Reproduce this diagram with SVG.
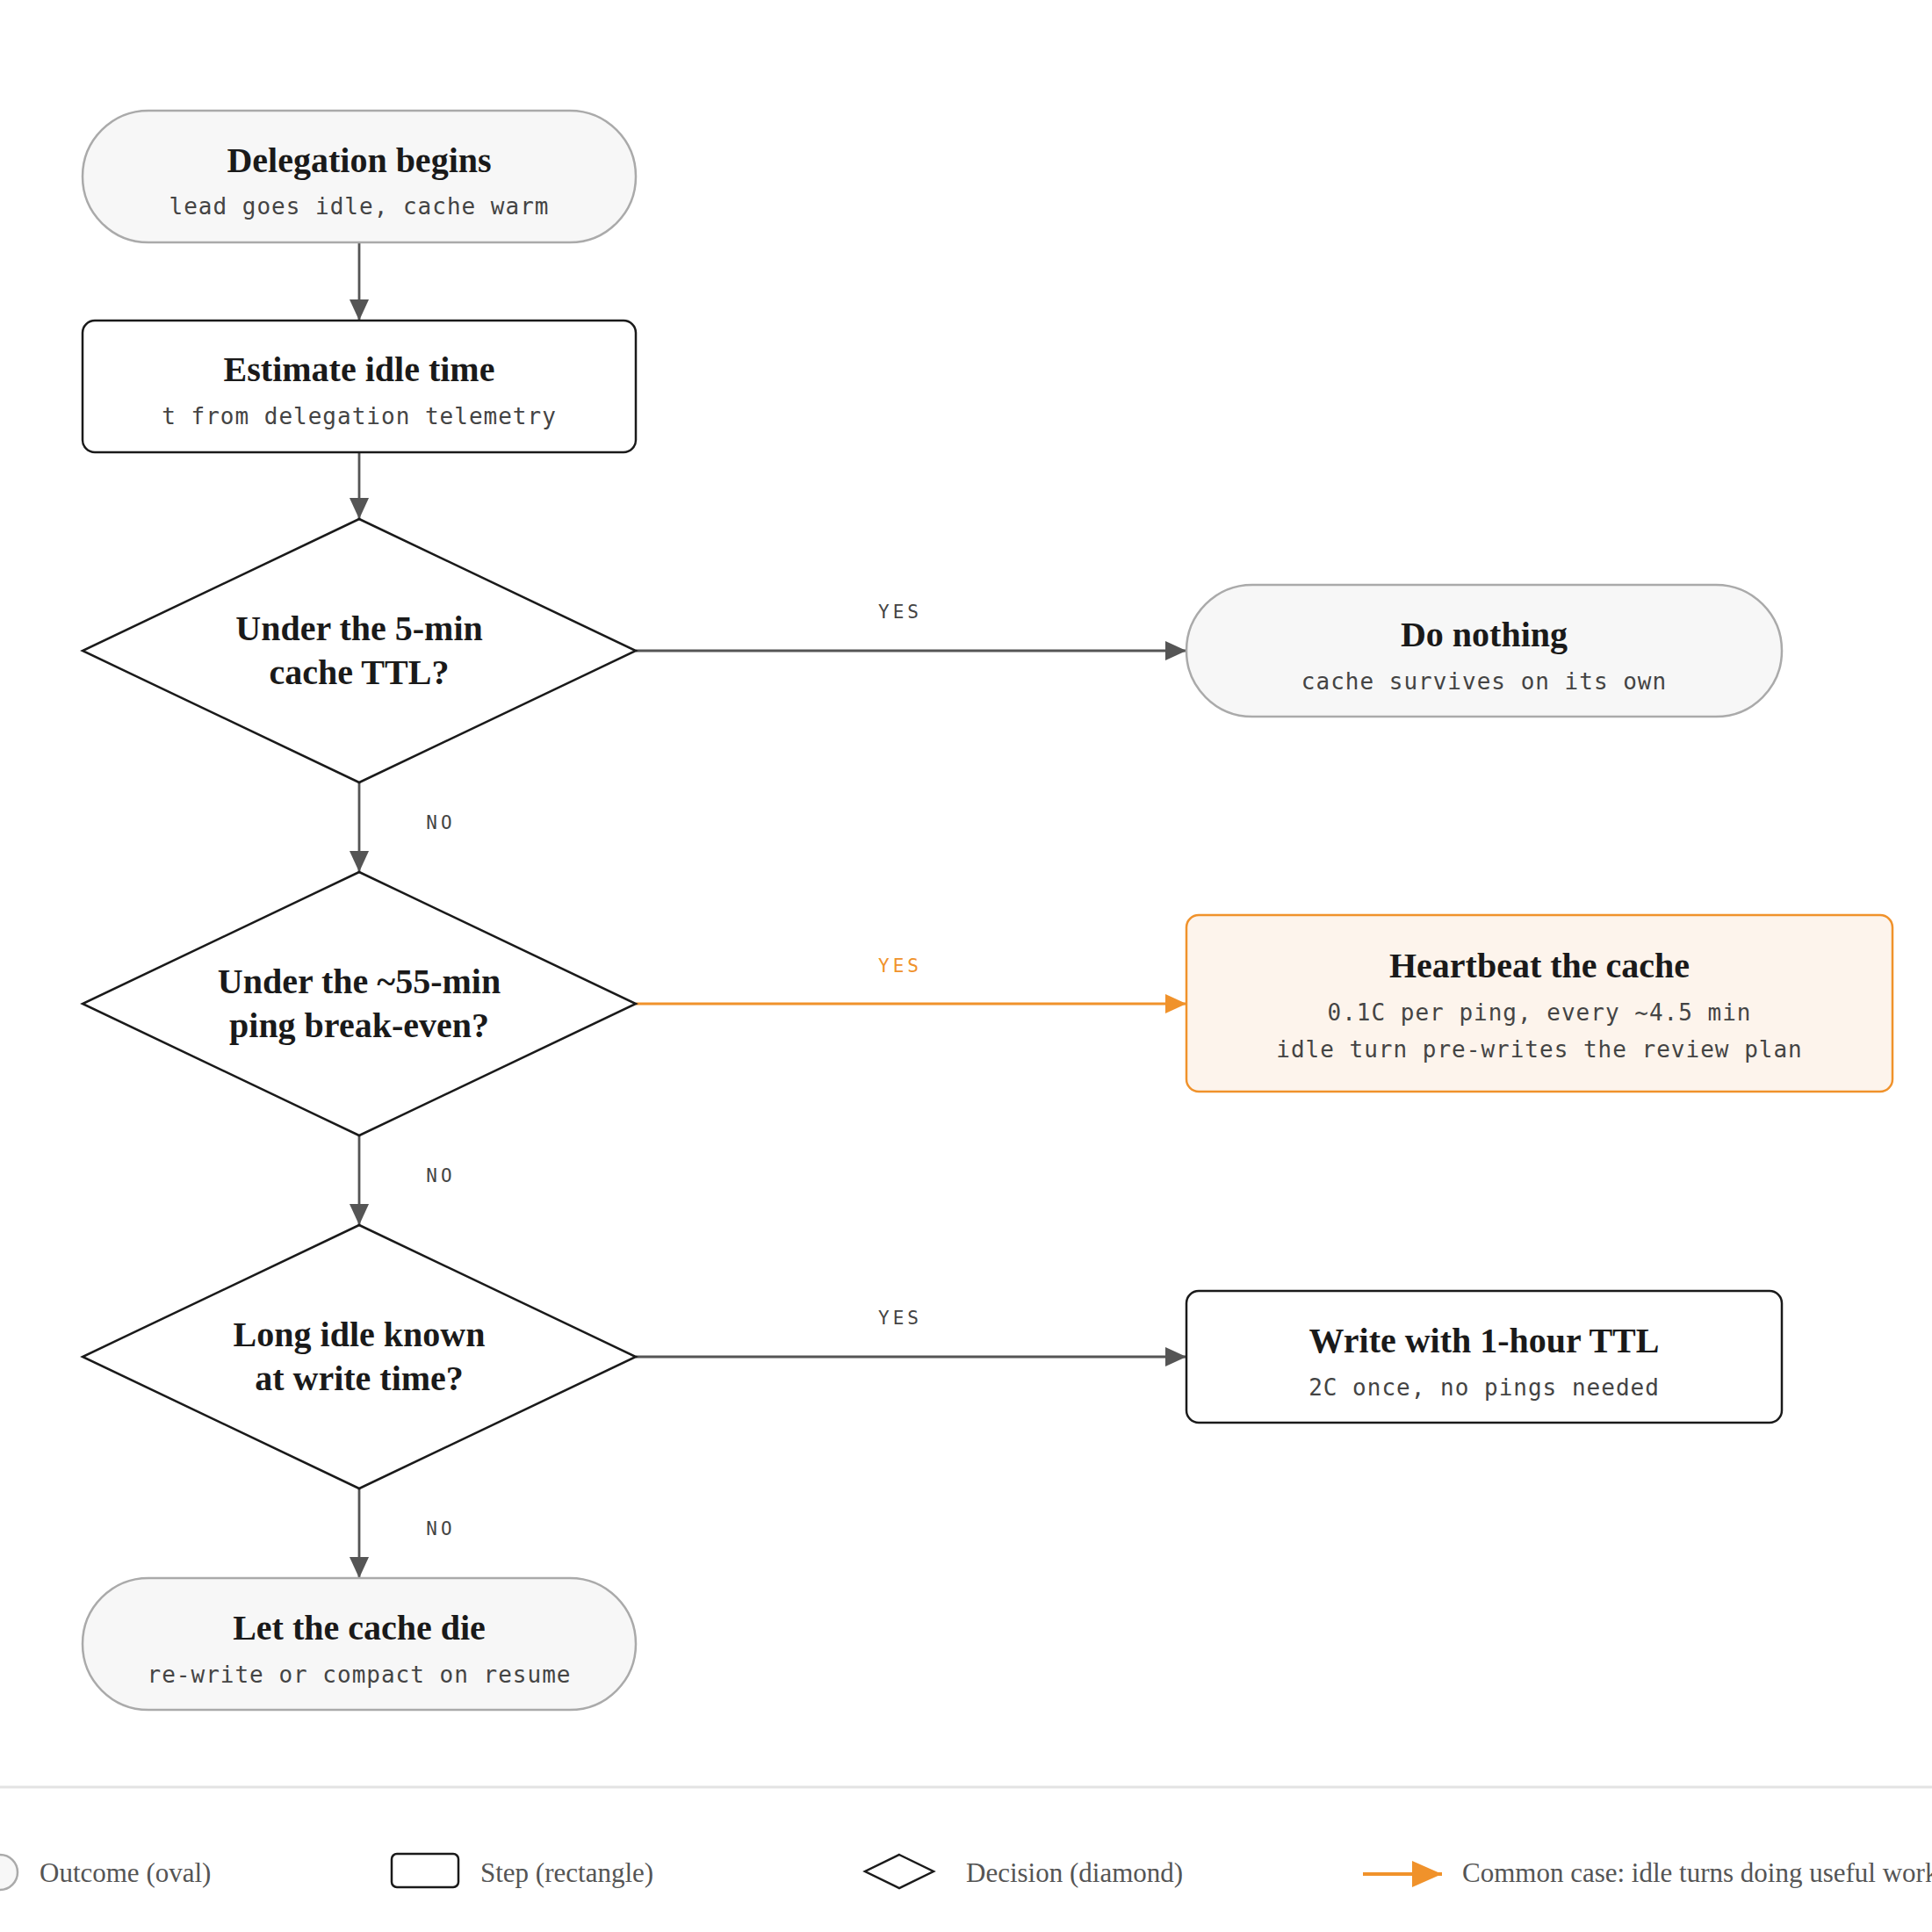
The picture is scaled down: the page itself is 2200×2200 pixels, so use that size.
<svg xmlns="http://www.w3.org/2000/svg" width="2200" height="2200" viewBox="0 0 2200 2200">
<style>
  .title { font-family: "Liberation Serif", "DejaVu Serif", serif; font-weight: bold; font-size: 40px; fill: #1a1a1a; text-anchor: middle; }
  .sub { font-family: "DejaVu Sans Mono", "Liberation Mono", monospace; font-size: 26px; letter-spacing: 1px; fill: #444; text-anchor: middle; }
  .lbl { font-family: "DejaVu Sans Mono", "Liberation Mono", monospace; font-size: 21px; letter-spacing: 4px; fill: #444; text-anchor: middle; }
  .lbl-hot { fill: #f0922b; }
  .oval { fill: #f7f7f7; stroke: #aaaaaa; stroke-width: 2.5; }
  .step { fill: #ffffff; stroke: #1a1a1a; stroke-width: 2.5; }
  .dec { fill: #ffffff; stroke: #1a1a1a; stroke-width: 2.5; }
  .hot { fill: #fdf4ec; stroke: #f0922b; stroke-width: 2.5; }
  .edge { fill: none; stroke: #555555; stroke-width: 2.8; }
  .edge-hot { fill: none; stroke: #f0922b; stroke-width: 3.2; }
  .legend { font-family: "Liberation Serif", "DejaVu Serif", serif; font-size: 31px; fill: #555; }
</style>
<defs>
  <marker id="ah" markerUnits="userSpaceOnUse" markerWidth="24" markerHeight="22" refX="24" refY="11" orient="auto">
    <path d="M0,0 L24,11 L0,22 Z" fill="#555555"/>
  </marker>
  <marker id="ah-hot" markerUnits="userSpaceOnUse" markerWidth="24" markerHeight="22" refX="24" refY="11" orient="auto">
    <path d="M0,0 L24,11 L0,22 Z" fill="#f0922b"/>
  </marker>
  <marker id="ah-hot-lg" markerUnits="userSpaceOnUse" markerWidth="34" markerHeight="30" refX="34" refY="15" orient="auto">
    <path d="M0,0 L34,15 L0,30 Z" fill="#f0922b"/>
  </marker>
</defs>
<rect x="0" y="0" width="2200" height="2200" fill="#ffffff"/>

<g id="connectors">
  <line class="edge" x1="409" y1="276" x2="409" y2="365" marker-end="url(#ah)"/>
  <line class="edge" x1="409" y1="515" x2="409" y2="591" marker-end="url(#ah)"/>
  <line class="edge" x1="724" y1="741" x2="1351" y2="741" marker-end="url(#ah)"/>
  <text class="lbl" x="1025" y="704">YES</text>
  <line class="edge" x1="409" y1="891" x2="409" y2="993" marker-end="url(#ah)"/>
  <text class="lbl" x="502" y="944">NO</text>
  <line class="edge-hot" x1="724" y1="1143" x2="1351" y2="1143" marker-end="url(#ah-hot)"/>
  <text class="lbl lbl-hot" x="1025" y="1107">YES</text>
  <line class="edge" x1="409" y1="1293" x2="409" y2="1395" marker-end="url(#ah)"/>
  <text class="lbl" x="502" y="1346">NO</text>
  <line class="edge" x1="724" y1="1545" x2="1351" y2="1545" marker-end="url(#ah)"/>
  <text class="lbl" x="1025" y="1508">YES</text>
  <line class="edge" x1="409" y1="1695" x2="409" y2="1797" marker-end="url(#ah)"/>
  <text class="lbl" x="502" y="1748">NO</text>
</g>

<g id="start">
  <rect class="oval" x="94" y="126" width="630" height="150" rx="75"/>
  <text class="title" x="409" y="196">Delegation begins</text>
  <text class="sub" x="409" y="244">lead goes idle, cache warm</text>
</g>

<g id="estimate">
  <rect class="step" x="94" y="365" width="630" height="150" rx="14"/>
  <text class="title" x="409" y="434">Estimate idle time</text>
  <text class="sub" x="409" y="483">t from delegation telemetry</text>
</g>

<g id="d1">
  <polygon class="dec" points="409,591 724,741 409,891 94,741"/>
  <text class="title" x="409" y="729">Under the 5-min</text>
  <text class="title" x="409" y="779">cache TTL?</text>
</g>

<g id="donothing">
  <rect class="oval" x="1351" y="666" width="678" height="150" rx="75"/>
  <text class="title" x="1690" y="736">Do nothing</text>
  <text class="sub" x="1690" y="785">cache survives on its own</text>
</g>

<g id="d2">
  <polygon class="dec" points="409,993 724,1143 409,1293 94,1143"/>
  <text class="title" x="409" y="1131">Under the ~55-min</text>
  <text class="title" x="409" y="1181">ping break-even?</text>
</g>

<g id="heartbeat">
  <rect class="hot" x="1351" y="1042" width="804" height="201" rx="14"/>
  <text class="title" x="1753" y="1113">Heartbeat the cache</text>
  <text class="sub" x="1753" y="1162">0.1C per ping, every ~4.5 min</text>
  <text class="sub" x="1753" y="1204">idle turn pre-writes the review plan</text>
</g>

<g id="d3">
  <polygon class="dec" points="409,1395 724,1545 409,1695 94,1545"/>
  <text class="title" x="409" y="1533">Long idle known</text>
  <text class="title" x="409" y="1583">at write time?</text>
</g>

<g id="write1h">
  <rect class="step" x="1351" y="1470" width="678" height="150" rx="14"/>
  <text class="title" x="1690" y="1540">Write with 1-hour TTL</text>
  <text class="sub" x="1690" y="1589">2C once, no pings needed</text>
</g>

<g id="end">
  <rect class="oval" x="94" y="1797" width="630" height="150" rx="75"/>
  <text class="title" x="409" y="1867">Let the cache die</text>
  <text class="sub" x="409" y="1916">re-write or compact on resume</text>
</g>

<g id="legend">
  <line x1="0" y1="2035" x2="2200" y2="2035" stroke="#e3e3e3" stroke-width="3"/>
  <rect class="oval" x="-58" y="2112" width="78" height="40" rx="20"/>
  <text class="legend" x="45" y="2143">Outcome (oval)</text>
  <rect class="step" x="446" y="2111" width="76" height="38" rx="6"/>
  <text class="legend" x="547" y="2143">Step (rectangle)</text>
  <polygon class="dec" points="1024,2112 1063,2131 1024,2150 985,2131"/>
  <text class="legend" x="1100" y="2143">Decision (diamond)</text>
  <line x1="1552" y1="2134" x2="1642" y2="2134" stroke="#f0922b" stroke-width="4" marker-end="url(#ah-hot-lg)"/>
  <text class="legend" x="1665" y="2143">Common case: idle turns doing useful work</text>
</g>
</svg>
